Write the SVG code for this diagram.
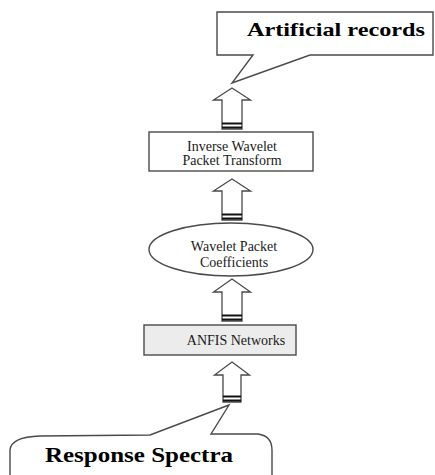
<svg xmlns="http://www.w3.org/2000/svg" width="435" height="475" viewBox="0 0 435 475">
<style>
.box{fill:#fff;stroke:#4a4a4a;stroke-width:1.4}
.arr{fill:#fff;stroke:#4a4a4a;stroke-width:1.3;stroke-linejoin:miter}
.bar{stroke:#111;stroke-width:2}
.t{font-family:"Liberation Serif","DejaVu Serif",serif;font-size:14px;fill:#1a1a1a;text-anchor:middle}
.b{font-family:"Liberation Serif","DejaVu Serif",serif;font-weight:700;fill:#000}
</style>
<rect width="435" height="475" fill="#fff"/>
<g id="artificial-records">
<path class="box" d="M217,12 L433,12 L433,55 L310,55 L232,83 L253,55 L217,55 Z"/>
<text class="b" x="247" y="36" font-size="19" textLength="178" lengthAdjust="spacingAndGlyphs">Artificial records</text>
</g>
<g id="inverse-wavelet">
<rect class="box" x="149" y="132" width="164" height="39"/>
<text class="t" x="232" y="151">Inverse Wavelet</text>
<text class="t" x="232" y="165">Packet Transform</text>
</g>
<g id="wavelet-coefficients">
<ellipse class="box" cx="231" cy="249.5" rx="82" ry="26.5"/>
<text class="t" x="234" y="251">Wavelet  Packet</text>
<text class="t" x="234" y="267">Coefficients</text>
</g>
<g id="anfis">
<rect x="144" y="325" width="152" height="30" fill="#ececec" stroke="#4a4a4a" stroke-width="1.4"/>
<text class="t" x="236" y="345">ANFIS Networks</text>
</g>
<g id="response-spectra">
<path class="box" d="M10,475 L10,450 Q11,437 40,436 L150,435 L229,405 L211,434 L258,434 Q272,436 272,450 L272,475"/>
<text class="b" x="45" y="462" font-size="21" textLength="188" lengthAdjust="spacingAndGlyphs">Response Spectra</text>
</g>
<g id="connectors">
<path class="arr" d="M232,88 L250.5,100 L242,100 L242,129 L222,129 L222,100 L213.5,100 Z"/>
<line class="bar" x1="222" y1="123.5" x2="242" y2="123.5"/>
<line class="bar" x1="222" y1="127.5" x2="242" y2="127.5"/>
<path class="arr" d="M232,179 L250.5,191 L242,191 L242,220 L222,220 L222,191 L213.5,191 Z"/>
<line class="bar" x1="222" y1="214.5" x2="242" y2="214.5"/>
<line class="bar" x1="222" y1="218.5" x2="242" y2="218.5"/>
<path class="arr" d="M232,279 L250.5,292 L242,292 L242,321 L222,321 L222,292 L213.5,292 Z"/>
<line class="bar" x1="222" y1="315.5" x2="242" y2="315.5"/>
<line class="bar" x1="222" y1="319.5" x2="242" y2="319.5"/>
<path class="arr" d="M232,362 L249.5,375 L241,375 L241,402 L223,402 L223,375 L214.5,375 Z"/>
<line class="bar" x1="223" y1="396.5" x2="241" y2="396.5"/>
<line class="bar" x1="223" y1="400.5" x2="241" y2="400.5"/>
</g>
</svg>
